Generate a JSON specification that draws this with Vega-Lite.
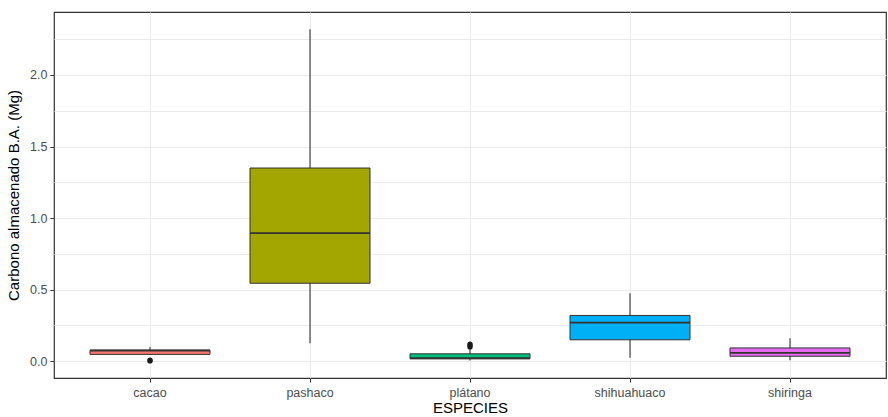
{
  "$schema": "https://vega.github.io/schema/vega-lite/v6.json",
  "width": 832,
  "height": 366,
  "autosize": "none",
  "padding": {"left": 54, "top": 12, "right": 2, "bottom": 39},
  "background": "white",
  "config": {
    "font": "Liberation Sans",
    "view": {"stroke": "#333333", "strokeWidth": 1.2}
  },
  "datasets": {
    "stats": [
      {"especie": "cacao", "lower": 0.045, "q1": 0.048, "median": 0.075, "q3": 0.077, "upper": 0.1},
      {"especie": "pashaco", "lower": 0.126, "q1": 0.545, "median": 0.895, "q3": 1.35, "upper": 2.32},
      {"especie": "plátano", "lower": 0.005, "q1": 0.018, "median": 0.021, "q3": 0.052, "upper": 0.09},
      {"especie": "shihuahuaco", "lower": 0.025, "q1": 0.15, "median": 0.27, "q3": 0.32, "upper": 0.475},
      {"especie": "shiringa", "lower": 0.007, "q1": 0.035, "median": 0.058, "q3": 0.093, "upper": 0.16}
    ],
    "outliers": [
      {"especie": "cacao", "valor": 0.002},
      {"especie": "cacao", "valor": 0.008},
      {"especie": "plátano", "valor": 0.1},
      {"especie": "plátano", "valor": 0.11},
      {"especie": "plátano", "valor": 0.12}
    ]
  },
  "encoding": {
    "x": {
      "field": "especie",
      "type": "nominal",
      "sort": ["cacao", "pashaco", "plátano", "shihuahuaco", "shiringa"],
      "scale": {"paddingInner": 0, "paddingOuter": 0.1},
      "axis": {
        "title": "ESPECIES",
        "labelAngle": 0,
        "grid": true,
        "gridColor": "#EBEBEB",
        "gridWidth": 1,
        "domain": false,
        "ticks": true,
        "tickColor": "#333333",
        "tickSize": 4,
        "tickBand": "center",
        "labelColor": "#4D4D4D",
        "labelFontSize": 12.5,
        "labelPadding": 4,
        "titleFontSize": 15,
        "titleFontWeight": "normal",
        "titleColor": "#000000",
        "titlePadding": 2
      }
    }
  },
  "layer": [
    {
      "data": {"name": "stats"},
      "mark": {"type": "rule", "color": "#333333", "strokeWidth": 1.1},
      "encoding": {
        "y": {
          "field": "lower",
          "type": "quantitative",
          "scale": {"domain": [-0.117, 2.44], "nice": false, "zero": false},
          "axis": {
            "title": "Carbono almacenado B.A. (Mg)",
            "values": [0, 0.25, 0.5, 0.75, 1, 1.25, 1.5, 1.75, 2, 2.25],
            "labelExpr": "datum.value % 0.5 === 0 ? format(datum.value, '.1f') : ''",
            "grid": true,
            "gridColor": "#EBEBEB",
            "gridWidth": 1,
            "domain": false,
            "tickColor": {"condition": {"test": "datum.value % 0.5 === 0", "value": "#333333"}, "value": "transparent"},
            "tickSize": 4,
            "labelColor": "#4D4D4D",
            "labelFontSize": 12.5,
            "labelPadding": 3,
            "titleFontSize": 15,
            "titleFontWeight": "normal",
            "titleColor": "#000000",
            "titlePadding": 8
          }
        },
        "y2": {"field": "upper"}
      }
    },
    {
      "data": {"name": "stats"},
      "mark": {"type": "bar", "stroke": "#333333", "strokeWidth": 1, "width": {"band": 0.75}},
      "encoding": {
        "y": {"field": "q1", "type": "quantitative"},
        "y2": {"field": "q3"},
        "fill": {
          "field": "especie",
          "type": "nominal",
          "scale": {
            "domain": ["cacao", "pashaco", "plátano", "shihuahuaco", "shiringa"],
            "range": ["#F8766D", "#A3A500", "#00BF7D", "#00B0F6", "#E76BF3"]
          },
          "legend": null
        }
      }
    },
    {
      "data": {"name": "stats"},
      "mark": {"type": "tick", "color": "#333333", "thickness": 1.8, "size": 120, "opacity": 1},
      "encoding": {
        "y": {"field": "median", "type": "quantitative"}
      }
    },
    {
      "data": {"name": "outliers"},
      "mark": {"type": "point", "filled": true, "color": "#1a1a1a", "size": 28, "opacity": 1},
      "encoding": {
        "y": {"field": "valor", "type": "quantitative"}
      }
    }
  ]
}
